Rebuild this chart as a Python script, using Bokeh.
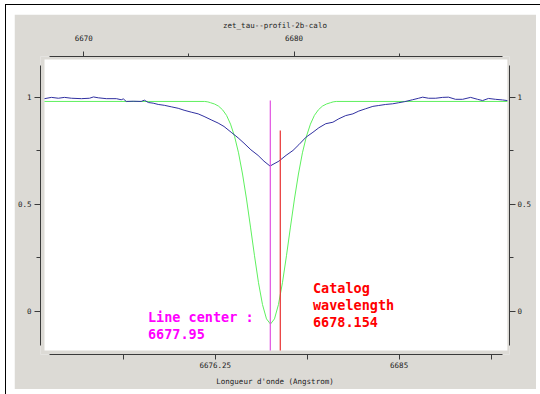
from bokeh.plotting import figure
from bokeh.models import Range1d, LinearAxis, FixedTicker, CustomJSTickFormatter
from bokeh.layouts import column
from bokeh.embed import file_html
from bokeh.resources import INLINE
from bokeh.core.properties import value

# ---- chart texts ----
title = "zet_tau--profil-2b-calo"
x_label = "Longueur d'onde (Angstrom)"

# ---- observed profile (wavelength in Angstrom, normalised flux) ----
obs_wavelength = [
    6668.13, 6668.46, 6668.79, 6669.08, 6669.41, 6669.89, 6670.27, 6670.46,
    6670.69, 6671.07, 6671.55, 6671.78, 6671.88, 6672.02, 6672.35, 6672.73,
    6672.88, 6673.07, 6673.30, 6673.54, 6673.83, 6674.16, 6674.49, 6674.77,
    6675.11, 6675.44, 6675.72, 6676.06, 6676.39, 6676.67, 6677.01, 6677.34,
    6677.62, 6677.95, 6678.29, 6678.57, 6678.86, 6679.00, 6679.28, 6679.62,
    6679.95, 6680.23, 6680.57, 6680.90, 6681.18, 6681.51, 6681.85, 6682.13,
    6682.46, 6682.80, 6683.08, 6683.41, 6683.75, 6684.03, 6684.36, 6684.69,
    6684.98, 6685.26, 6685.64, 6685.93, 6686.12, 6686.40, 6686.74, 6687.07,
    6687.35, 6687.68, 6688.02, 6688.40, 6688.73, 6688.97, 6689.25, 6689.58,
    6689.92, 6690.15,
]
obs_flux = [
    0.993, 0.999, 0.995, 0.999, 0.995, 0.993, 0.995, 1.001,
    0.997, 0.993, 0.993, 0.988, 0.992, 0.980, 0.981, 0.980,
    0.986, 0.975, 0.972, 0.966, 0.962, 0.955, 0.948, 0.939,
    0.930, 0.922, 0.910, 0.894, 0.879, 0.863, 0.836, 0.810,
    0.785, 0.754, 0.728, 0.701, 0.678, 0.686, 0.701, 0.728,
    0.751, 0.778, 0.813, 0.836, 0.857, 0.876, 0.883, 0.899,
    0.914, 0.922, 0.935, 0.946, 0.957, 0.961, 0.966, 0.969,
    0.974, 0.979, 0.988, 0.995, 1.000, 0.995, 0.995, 0.999,
    1.000, 0.990, 0.990, 0.999, 0.990, 0.984, 0.994, 0.990,
    0.987, 0.984,
]

# ---- fitted profile ----
fit_wavelength = [
    6668.13, 6675.75, 6675.90, 6676.03, 6676.22, 6676.41, 6676.60, 6676.79,
    6676.98, 6677.17, 6677.36, 6677.55, 6677.74, 6677.93, 6678.12, 6678.31,
    6678.50, 6678.69, 6678.88, 6679.07, 6679.26, 6679.45, 6679.64, 6679.83,
    6680.02, 6680.21, 6680.40, 6680.59, 6680.78, 6680.97, 6681.16, 6681.35,
    6681.54, 6681.73, 6681.86, 6682.01, 6690.15,
]
fit_flux = [
    0.980, 0.980, 0.978, 0.974, 0.968, 0.958, 0.941, 0.915,
    0.874, 0.817, 0.740, 0.641, 0.524, 0.393, 0.259, 0.133,
    0.031, -0.036, -0.060, -0.036, 0.031, 0.133, 0.259, 0.393,
    0.524, 0.641, 0.740, 0.817, 0.874, 0.915, 0.941, 0.958,
    0.968, 0.974, 0.978, 0.980, 0.980,
]

# ---- reference lines ----
line_center = 6677.95
catalog_wavelength = 6678.154

# ---- ticks ----
top_ticks = [6670, 6680]
top_minor = [6675, 6685]
bottom_ticks = [6676.25, 6685]
bottom_minor = [6671.875, 6680.625, 6689.375]
flux_ticks = [0, 0.5, 1]
flux_minor = [0.25, 0.75]

# ---- style ----
GRAY = "#dcdad5"
AXIS = "#3a3a3a"
TXT = "#222222"
FONT = "DejaVu Sans Mono"
FLUX_FLOOR, FLUX_CEIL = -0.184, 1.176

p = figure(
    width=522, height=375,
    x_range=Range1d(6667.94, 6690.25),
    y_range=Range1d(-0.2023, 1.190),
    output_backend="svg", toolbar_location=None,
    x_axis_location=None, y_axis_location=None,
    min_border_left=25, min_border_right=27,
    min_border_top=42, min_border_bottom=35,
    background_fill_color=GRAY, border_fill_color=GRAY,
    outline_line_color=None,
    margin=(9, 4, 5, 8),
)
p.xgrid.visible = False
p.ygrid.visible = False

# the reference markers are laid out on their own wavelength scale
p.extra_x_ranges = {"marks": Range1d(6673.252, 6682.840)}

fmt = CustomJSTickFormatter(code="return String(tick);")


def style_axis(ax, ticks, minor, bounds, major_out, minor_out, standoff):
    ax.ticker = FixedTicker(ticks=ticks, minor_ticks=minor)
    ax.formatter = fmt
    ax.bounds = bounds
    ax.axis_line_color = AXIS
    ax.major_tick_line_color = AXIS
    ax.minor_tick_line_color = AXIS
    ax.major_tick_in = 0
    ax.minor_tick_in = 0
    ax.major_tick_out = major_out
    ax.minor_tick_out = minor_out
    ax.major_label_standoff = standoff
    ax.major_label_text_font = FONT
    ax.major_label_text_font_size = "7.5px"
    ax.major_label_text_color = TXT
    ax.axis_label_text_font = FONT
    ax.axis_label_text_font_size = "7.5px"
    ax.axis_label_text_font_style = "normal"
    ax.axis_label_text_color = TXT


x_bounds = (6668.37, 6689.91)
y_bounds = (-0.160, 1.148)

top = LinearAxis(axis_label=title)
style_axis(top, top_ticks, top_minor, x_bounds, 5, 3, 11)
top.axis_label_standoff = 2
p.add_layout(top, "above")

bottom = LinearAxis(axis_label=x_label)
style_axis(bottom, bottom_ticks, bottom_minor, x_bounds, 5, 5, 2)
bottom.axis_label_standoff = 6
p.add_layout(bottom, "below")

left = LinearAxis()
style_axis(left, flux_ticks, flux_minor, y_bounds, 6, 4, 3)
p.add_layout(left, "left")

right = LinearAxis()
style_axis(right, flux_ticks, flux_minor, y_bounds, 6, 4, 2)
p.add_layout(right, "right")

# white data area spanning the observed wavelengths
p.quad(left=obs_wavelength[0], right=obs_wavelength[-1],
       bottom=FLUX_FLOOR, top=FLUX_CEIL,
       fill_color="white", line_color=None)

p.line(fit_wavelength, fit_flux, line_color="#5ef05e", line_width=1)
p.line(obs_wavelength, obs_flux, line_color="#3030a0", line_width=1)

p.segment(x0=[line_center], y0=[FLUX_FLOOR], x1=[line_center], y1=[0.985],
          x_range_name="marks", line_color="#e050e0", line_width=1.2)
p.segment(x0=[catalog_wavelength], y0=[FLUX_FLOOR], x1=[catalog_wavelength], y1=[0.844],
          x_range_name="marks", line_color="#e83030", line_width=1.2)

p.text(x=[6673.05], y=[0.008], text=[f"Line center :\n{line_center}"],
       text_font=value(FONT), text_font_style="bold", text_font_size="13.5px",
       text_color="#ff00ff", text_align="left", text_baseline="top",
       text_line_height=1.05)
p.text(x=[6680.90], y=[0.146],
       text=[f"Catalog\nwavelength\n{catalog_wavelength}"],
       text_font=value(FONT), text_font_style="bold", text_font_size="13.5px",
       text_color="#ff0000", text_align="left", text_baseline="top",
       text_line_height=1.05)

root = column(p, margin=(4, 0, 0, 5),
              styles={"border-top": "1px solid #000", "border-left": "1px solid #000",
                      "background-color": "white"})

open("out.html", "w").write(file_html(root, INLINE))
